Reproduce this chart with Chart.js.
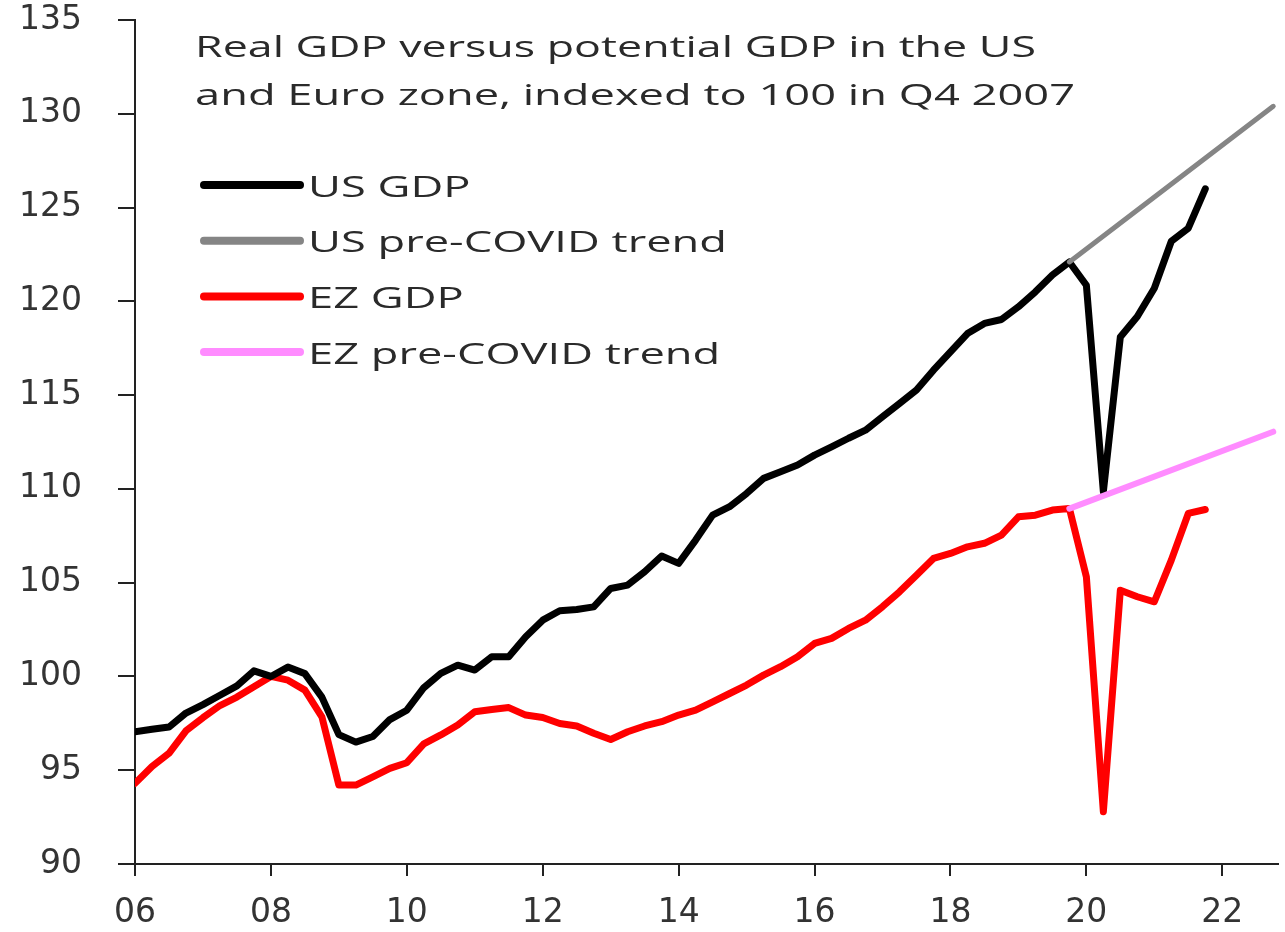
<!DOCTYPE html>
<html>
<head>
<meta charset="utf-8">
<script src="https://cdn.jsdelivr.net/npm/chart.js@4.4.1/dist/chart.umd.min.js"></script>
<style>
  html, body { margin: 0; padding: 0; background: #fff; }
  #wrap { width: 1285px; height: 932px; }
</style>
</head>
<body>
<div id="wrap"><canvas id="gdpChart" width="1285" height="932"></canvas></div>
<script>
// Quarterly series, 2005Q4 .. 2021Q3 (index 100 = 2007Q4)
const quarters = [];
for (let yr = 2005; yr <= 2021; yr++) {
    for (let q = 1; q <= 4; q++) quarters.push(yr + 'Q' + q);
}
const gdpQuarters = quarters.slice(quarters.indexOf('2005Q4'), quarters.indexOf('2021Q3') + 1);

const usGdp = [
    97.05, 97.18, 97.3, 98.05, 98.5, 99.0, 99.5, 100.3, 100.0, 100.5,
    100.15, 98.9, 96.9, 96.5, 96.8, 97.7, 98.2, 99.4, 100.16, 100.6,
    100.34, 101.05, 101.05, 102.12, 103.0, 103.5, 103.57, 103.71, 104.69, 104.87,
    105.58, 106.42, 106.03, 107.27, 108.6, 109.05, 109.76, 110.56, 110.91, 111.27,
    111.8, 112.24, 112.7, 113.13, 113.84, 114.55, 115.27, 116.33, 117.31, 118.28,
    118.82, 119.03, 119.71, 120.51, 121.4, 122.1, 120.86, 109.85, 118.1, 119.19,
    120.7, 123.2, 123.9, 126.0
];

const ezGdp = [
    94.3, 95.2, 95.9, 97.1, 97.8, 98.45, 98.9, 99.45, 100.0, 99.8,
    99.27, 97.85, 94.21, 94.21, 94.65, 95.1, 95.4, 96.4, 96.88, 97.41,
    98.12, 98.24, 98.34, 97.94, 97.81, 97.49, 97.36, 96.97, 96.64, 97.05,
    97.36, 97.59, 97.94, 98.2, 98.65, 99.09, 99.54, 100.07, 100.52, 101.05,
    101.76, 102.03, 102.56, 103.0, 103.72, 104.51, 105.4, 106.29, 106.56, 106.91,
    107.1, 107.54, 108.51, 108.6, 108.87, 108.96, 105.31, 92.79, 104.6, 104.25,
    103.98, 106.2, 108.69, 108.9
];

// pre-COVID trend lines (straight, start and end point)
const trendQuarters = ['2019Q3', '2022Q3'];
const usTrend = [122.1, 130.4];
const ezTrend = [108.95, 113.05];

const titleLines = [
    'Real GDP versus potential GDP in the US',
    'and Euro zone, indexed to 100 in Q4 2007'
];

// quarter label -> position on the time axis (end of quarter)
function toX(label) {
    const yr = parseInt(label.slice(0, 4), 10);
    const q = parseInt(label.slice(5), 10);
    return yr + q / 4;
}

function points(labels, values) {
    return labels.map((lab, i) => ({ x: toX(lab), y: values[i] }));
}

// title and legend drawn inside the plot, like the original
const overlay = {
    id: 'overlay',
    afterDraw(chart) {
        const ctx = chart.ctx;
        ctx.save();
        ctx.fillStyle = '#2a2a2a';
        ctx.font = '30px "Open Sans"';
        ctx.textBaseline = 'alphabetic';

        // title: fit each line to the width seen in the original
        const titleEnds = [1036, 1075];
        titleLines.forEach((line, i) => {
            const w = ctx.measureText(line).width;
            ctx.save();
            ctx.translate(195, 57 + i * 48);
            ctx.scale((titleEnds[i] - 195) / w, 1);
            ctx.fillText(line, 0, 0);
            ctx.restore();
        });

        // legend
        const sets = chart.data.datasets;
        const longest = ctx.measureText('US pre-COVID trend').width;
        const sx = (727 - 308) / longest;
        sets.forEach((ds, i) => {
            const y = 185 + i * 55.7;
            ctx.strokeStyle = ds.borderColor;
            ctx.lineWidth = 8;
            ctx.lineCap = 'round';
            ctx.beginPath();
            ctx.moveTo(204, y);
            ctx.lineTo(300, y);
            ctx.stroke();
            ctx.save();
            ctx.translate(308, y + 11.5);
            ctx.scale(sx, 1);
            ctx.fillText(ds.label, 0, 0);
            ctx.restore();
        });
        ctx.restore();
    }
};

const ctx = document.getElementById('gdpChart').getContext('2d');
new Chart(ctx, {
    type: 'line',
    data: {
        datasets: [
            {
                label: 'US GDP',
                data: points(gdpQuarters, usGdp),
                borderColor: '#000000',
                borderWidth: 7,
                order: 2
            },
            {
                label: 'US pre-COVID trend',
                data: points(trendQuarters, usTrend),
                borderColor: '#858585',
                borderWidth: 5,
                order: 1
            },
            {
                label: 'EZ GDP',
                data: points(gdpQuarters, ezGdp),
                borderColor: '#ff0000',
                borderWidth: 7,
                order: 2
            },
            {
                label: 'EZ pre-COVID trend',
                data: points(trendQuarters, ezTrend),
                borderColor: '#ff8cff',
                borderWidth: 6,
                order: 1
            }
        ]
    },
    options: {
        responsive: false,
        animation: false,
        elements: {
            point: { radius: 0 },
            line: { tension: 0, borderJoinStyle: 'round', borderCapStyle: 'round' }
        },
        layout: { padding: { top: 20, right: 7, left: 0, bottom: 0 } },
        scales: {
            x: {
                type: 'linear',
                min: 2006,
                max: 2022.82,
                afterFit: function (scale) { scale.height = 68; },
                border: { color: '#222', width: 2 },
                grid: { drawOnChartArea: false, tickLength: 12, color: '#222', lineWidth: 2 },
                ticks: {
                    stepSize: 2,
                    includeBounds: false,
                    maxRotation: 0,
                    padding: 18,
                    color: '#333',
                    font: { family: 'DejaVu Sans', size: 33 },
                    callback: value => String(value).slice(2)
                }
            },
            y: {
                min: 90,
                max: 135,
                afterFit: function (scale) {
                    scale.width = 135;
                    scale.paddingTop = 0;
                    scale.paddingBottom = 0;
                },
                border: { color: '#222', width: 2 },
                grid: { drawOnChartArea: false, tickLength: 17, color: '#222', lineWidth: 2 },
                ticks: {
                    stepSize: 5,
                    padding: 36,
                    color: '#333',
                    font: { family: 'DejaVu Sans', size: 33 }
                }
            }
        },
        plugins: {
            legend: { display: false },
            tooltip: { enabled: false }
        }
    },
    plugins: [overlay]
});
</script>
</body>
</html>
